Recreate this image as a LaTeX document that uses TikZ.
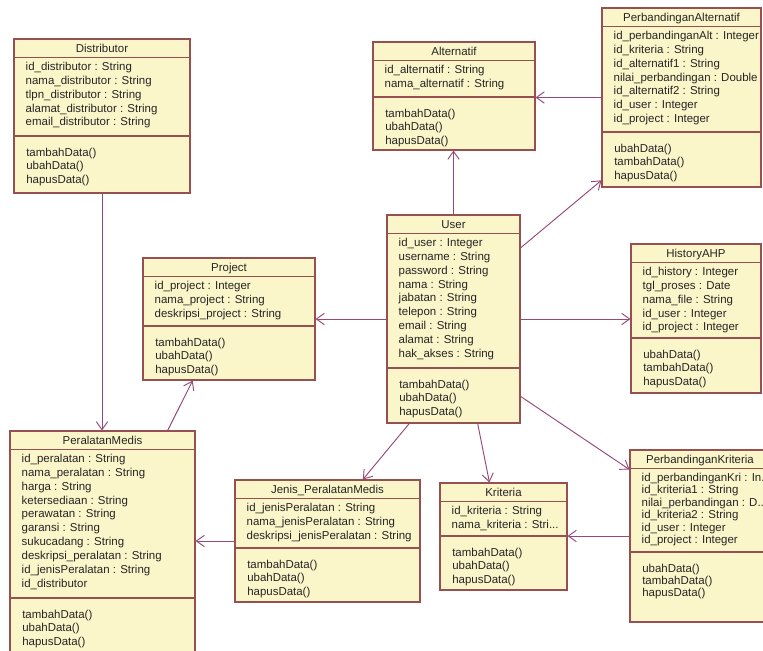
\documentclass[tikz,border=0pt]{standalone}
\usepackage{fontspec}
\setmainfont{Liberation Sans}
\usetikzlibrary{arrows.meta,calc,fit}

\definecolor{classfill}{RGB}{250,246,202}
\definecolor{classedge}{RGB}{150,80,80}
\definecolor{assocline}{RGB}{150,72,120}
\definecolor{classink}{RGB}{40,36,36}

\newcommand{\umlfont}{\fontsize{8.6}{10.4}\selectfont}

\tikzset{
  classbox/.style={draw=classedge, fill=classfill, line width=0.8pt, inner sep=0pt},
  classrule/.style={draw=classedge, line width=0.8pt},
  classtitle/.style={anchor=base, inner sep=0pt, text=classink, font=\umlfont},
  classtext/.style={anchor=base west, inner sep=0pt, text=classink, font=\umlfont},
  assoc/.style={draw=assocline, line width=0.7pt, -{Straight Barb[length=6pt,width=8.5pt]}},
}

% #1 name, #2 left, #3 top, #4 right, #5 bottom, #6 y of the operations rule,
% #7 class name, #8 attributes, #9 operations  (y grows downwards)
\newcommand{\umlclass}[9]{%
  \node[classbox, fit={(#2,#3) (#4,#5)}] (#1) {};
  \node[classtitle] at ($(#1.north)+(0,14.5)$) {#7};
  \draw[classrule] ($(#1.north west)+(0,19)$) -- ($(#1.north east)+(0,19)$);
  \node[classtext] at ($(#1.north west)+(12,32)$)
    {\begin{tabular}[t]{@{}l@{}}#8\end{tabular}};
  \draw[classrule] (#2,#6) -- (#4,#6);
  \node[classtext] at (#2+12,#6+20)
    {\begin{tabular}[t]{@{}l@{}}#9\end{tabular}};
}

\begin{document}
\begin{tikzpicture}[x=0.75pt, y=-0.75pt]
  \fill[white] (0,0) rectangle (763,650);
  \useasboundingbox (0,0) rectangle (763,650);

  \umlclass{dist}{14}{39}{190}{193}{136}{Distributor}
    {id\_distributor : String\\ nama\_distributor : String\\ tlpn\_distributor : String\\
     alamat\_distributor : String\\ email\_distributor : String}
    {tambahData()\\ ubahData()\\ hapusData()}

  \umlclass{alt}{373}{42}{535}{150}{97}{Alternatif}
    {id\_alternatif : String\\ nama\_alternatif : String}
    {tambahData()\\ ubahData()\\ hapusData()}

  \umlclass{palt}{602}{8}{761}{187}{132}{PerbandinganAlternatif}
    {id\_perbandinganAlt : Integer\\ id\_kriteria : String\\ id\_alternatif1 : String\\
     nilai\_perbandingan : Double\\ id\_alternatif2 : String\\ id\_user : Integer\\
     id\_project : Integer}
    {ubahData()\\ tambahData()\\ hapusData()}

  \umlclass{user}{387}{215}{520}{423}{368}{User}
    {id\_user : Integer\\ username : String\\ password : String\\ nama : String\\
     jabatan : String\\ telepon : String\\ email : String\\ alamat : String\\
     hak\_akses : String}
    {tambahData()\\ ubahData()\\ hapusData()}

  \umlclass{proj}{143}{258}{315}{380}{326}{Project}
    {id\_project : Integer\\ nama\_project : String\\ deskripsi\_project : String}
    {tambahData()\\ ubahData()\\ hapusData()}

  \umlclass{hist}{631}{244}{761}{393}{338}{HistoryAHP}
    {id\_history : Integer\\ tgl\_proses : Date\\ nama\_file : String\\
     id\_user : Integer\\ id\_project : Integer}
    {ubahData()\\ tambahData()\\ hapusData()}

  \umlclass{pm}{10}{431}{195}{656}{598}{PeralatanMedis}
    {id\_peralatan : String\\ nama\_peralatan : String\\ harga : String\\
     ketersediaan : String\\ perawatan : String\\ garansi : String\\
     sukucadang : String\\ deskripsi\_peralatan : String\\
     id\_jenisPeralatan : String\\ id\_distributor}
    {tambahData()\\ ubahData()\\ hapusData()}

  \umlclass{jenis}{235}{480}{420}{602}{548}{Jenis\_PeralatanMedis}
    {id\_jenisPeralatan : String\\ nama\_jenisPeralatan : String\\
     deskripsi\_jenisPeralatan : String}
    {tambahData()\\ ubahData()\\ hapusData()}

  \umlclass{krit}{440}{483}{567}{590}{536}{Kriteria}
    {id\_kriteria : String\\ nama\_kriteria : Stri...}
    {tambahData()\\ ubahData()\\ hapusData()}

  % this class sets its rows a little tighter
  \begingroup
  \renewcommand{\arraystretch}{0.9}
  \umlclass{pkri}{630}{450}{770}{622}{552}{PerbandinganKriteria}
    {id\_perbandinganKri : In...\\ id\_kriteria1 : String\\ nilai\_perbandingan : D...\\
     id\_kriteria2 : String\\ id\_user : Integer\\ id\_project : Integer}
    {ubahData()\\ tambahData()\\ hapusData()}
  \endgroup

  % associations
  \draw[assoc] (dist.south) -- (dist.south |- pm.north);
  \draw[assoc] ($(pm.north west)!0.85!(pm.north east)$) -- ($(proj.south west)!0.29!(proj.south east)$);
  \draw[assoc] (user.north) -- (user.north |- alt.south);
  \draw[assoc] (palt.west) -- (palt.west -| alt.east);
  \draw[assoc] ($(user.north east)!0.16!(user.south east)$) -- ($(palt.north west)!0.96!(palt.south west)$);
  \draw[assoc] (user.west) -- (user.west -| proj.east);
  \draw[assoc] (user.east) -- (user.east -| hist.west);
  \draw[assoc] ($(user.south west)!0.17!(user.south east)$) -- ($(jenis.north west)!0.69!(jenis.north east)$);
  \draw[assoc] ($(user.south west)!0.68!(user.south east)$) -- ($(krit.north west)!0.39!(krit.north east)$);
  \draw[assoc] ($(user.north east)!0.87!(user.south east)$) -- ($(pkri.north west)!0.116!(pkri.south west)$);
  \draw[assoc] (pkri.west) -- (pkri.west -| krit.east);
  \draw[assoc] (jenis.west) -- (jenis.west -| pm.east);
\end{tikzpicture}
\end{document}
